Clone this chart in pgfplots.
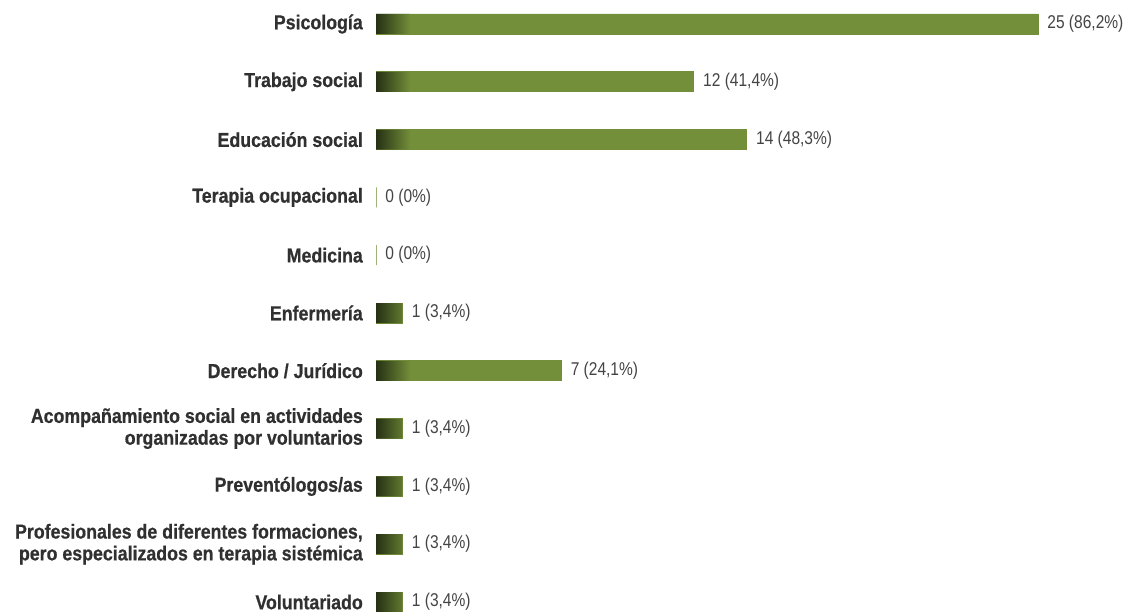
\documentclass[border=0pt]{standalone}
\usepackage{fontspec}
\setmainfont{Liberation Sans}[FakeStretch=0.84, BoldFeatures={FakeStretch=0.88, FakeBold=0.6}]
\usepackage{pgfplots}
\usepackage{pgfplotstable}
\pgfplotsset{compat=1.18}

\definecolor{bargreen}{RGB}{115,143,58}
\definecolor{bardark}{RGB}{38,48,20}
\definecolor{labgray}{RGB}{48,48,48}
\definecolor{valgray}{RGB}{68,68,68}

% y = row (0 = top), v = count, lab = value label
\pgfplotstableread[col sep=semicolon]{
y;v;lab
0;25;25 (86,2\%)
1;12;12 (41,4\%)
2;14;14 (48,3\%)
3;0;0 (0\%)
4;0;0 (0\%)
5;1;1 (3,4\%)
6;7;7 (24,1\%)
7;1;1 (3,4\%)
8;1;1 (3,4\%)
9;1;1 (3,4\%)
10;1;1 (3,4\%)
}\datatable

\begin{document}
\begin{tikzpicture}
\useasboundingbox (0,0) rectangle (1126pt,612pt);
\begin{axis}[
  at={(376pt,588pt)}, anchor=north west,
  scale only axis,
  width=662pt, height=578pt,
  xmin=0, xmax=25,
  ymin=0, ymax=10,
  y dir=reverse,
  clip=false,
  axis line style={draw=none},
  major tick length=0pt,
  xtick=\empty,
  ytick={0,...,10},
  yticklabels={Psicología, Trabajo social, Educación social, Terapia ocupacional, Medicina, Enfermería, Derecho / Jurídico,
    {Acompañamiento social en actividades\\organizadas por voluntarios},
    Preventólogos/as,
    {Profesionales de diferentes formaciones,\\pero especializados en terapia sistémica},
    Voluntariado},
  yticklabel style={font=\fontsize{20.2}{21.8}\selectfont\bfseries, text=labgray, align=right, inner sep=0pt, anchor=east, xshift=-13pt},
  xbar, bar width=20pt, bar shift=0pt,
]
\addplot[draw=bargreen, line width=0.8pt, fill=bargreen,
  point meta=explicit symbolic,
  nodes near coords,
  every node near coord/.append style={font=\fontsize{18.5}{20}\selectfont, text=valgray, anchor=west, inner sep=0pt, xshift=9pt}]
  table[x=v, y=y, meta=lab] {\datatable};
\addplot[draw=none, left color=bardark, right color=bargreen, unbounded coords=discard]
  table[x expr={\thisrow{v}>0 ? min(\thisrow{v},1.3) : nan}, y=y] {\datatable};
\end{axis}
\end{tikzpicture}
\end{document}
